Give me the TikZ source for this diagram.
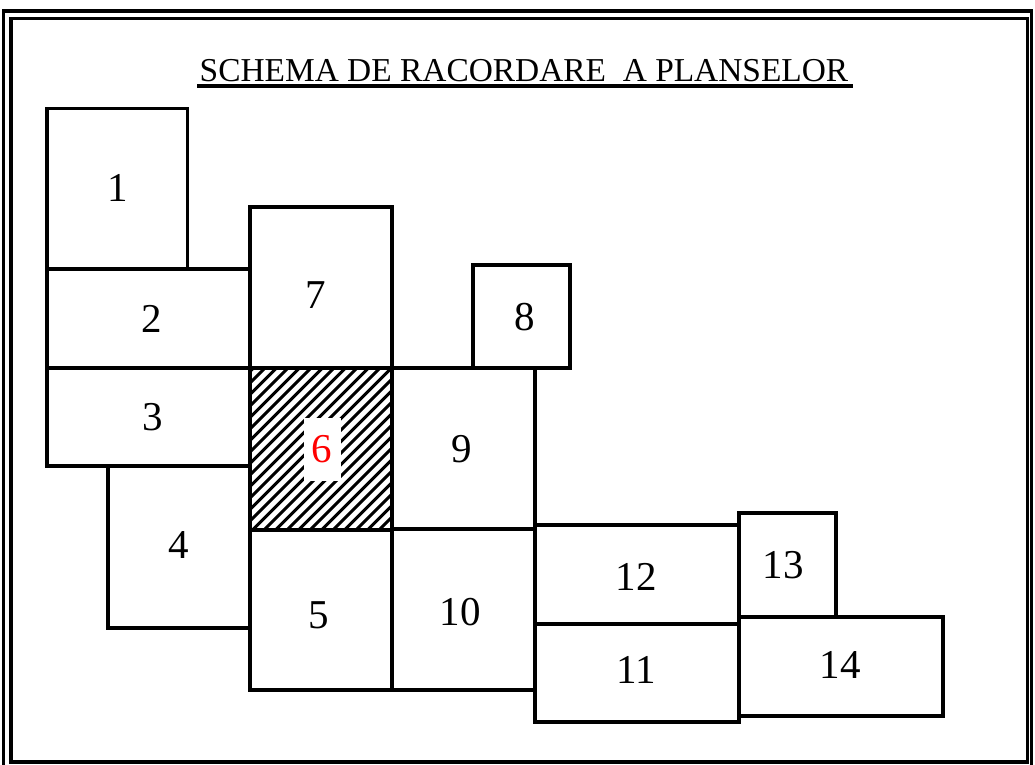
\documentclass[tikz,border=0pt]{standalone}
\usepackage{fontspec}
\setmainfont{Liberation Serif}
\usepackage{tikz}
\tikzstyle{plansa}=[line width=3.6pt]
\tikzstyle{chenar}=[line width=3.6pt]
\tikzstyle{hasura}=[line width=3pt]
\tikzstyle{nr}=[font=\fontsize{41}{41}\selectfont, inner sep=0pt]

\begin{document}
\begin{tikzpicture}[x=1pt,y=-1pt]
\useasboundingbox (0,0) rectangle (1035,764);
\clip (0,0) rectangle (1035,764);
% chenar dublu
\draw[chenar] (3.5,11) rectangle (1031.5,790);
\draw[chenar] (11,18.5) rectangle (1027.5,762);
% titlu
\node[font=\fontsize{33.4}{34}\selectfont, anchor=base, inner sep=0pt] (titlu) at (524,81) {SCHEMA DE RACORDARE~ A PLANSELOR};
\coordinate (s1) at (197,86);
\coordinate (s2) at (853,86);
\draw[line width=3.6pt] (s1) -- (s2);
% hasura plansa 6
\begin{scope}
\clip (250,368) rectangle (392,530);
\foreach \s in {80,91.5,...,400}
  \draw[hasura] (\s,530) -- ++(170,-170);
\end{scope}
% planse
\foreach \xa/\ya/\xb/\yb/\lx/\ly/\nr in {
  47/108.5/187.5/269/118/188/1, 47/269/250/368/152/319/2,
  47/368/250/466/153/417/3, 108/466/250/628/179/545/4,
  250/530/392/690/319/615/5, 250/207/392/368/316/295/7,
  473/265/570/368/525/317/8, 392/368/535/529/462/449/9,
  392/529/535/690/460/612/10, 535/624/739/722/636/670/11,
  535/525/739/624/636/577/12, 739/513/836/617/783/565/13,
  739/617/943/716/840/665/14} {
  \draw[plansa] (\xa,\ya) rectangle (\xb,\yb);
  \node[nr] (p\nr) at (\lx,\ly) {\nr};
}
\draw[plansa] (250,368) rectangle (392,530);
\node[nr, text=red, fill=white, minimum width=37pt, minimum height=63pt] (p6) at (322,449) {6};
\end{tikzpicture}
\end{document}
